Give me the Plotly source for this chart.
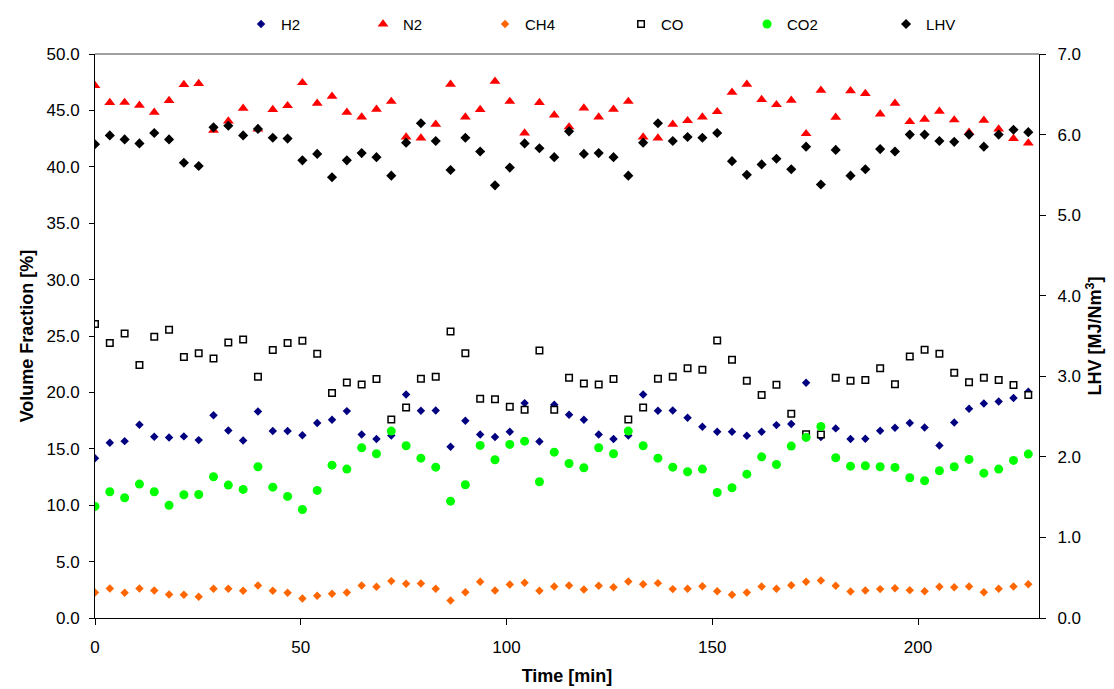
import plotly.graph_objects as go

time_min = [0.0, 3.6, 7.2, 10.8, 14.4, 18.0, 21.6, 25.2, 28.8, 32.4, 36.0, 39.6, 43.2, 46.8, 50.4, 54.0,
            57.6, 61.2, 64.8, 68.4, 72.0, 75.6, 79.2, 82.8, 86.4, 90.0, 93.6, 97.2, 100.8, 104.4, 108.0, 111.6,
            115.2, 118.8, 122.4, 126.0, 129.6, 133.2, 136.8, 140.4, 144.0, 147.6, 151.2, 154.8, 158.4, 162.0,
            165.6, 169.2, 172.8, 176.4, 180.0, 183.6, 187.2, 190.8, 194.4, 198.0, 201.6, 205.2, 208.8, 212.4,
            216.0, 219.6, 223.2, 226.8]

h2 = [14.17, 15.54, 15.68, 17.13, 16.07, 16.01, 16.10, 15.77, 17.98, 16.63, 15.74, 18.31, 16.57, 16.57, 16.21, 17.28,
      17.58, 18.34, 16.27, 15.86, 16.18, 19.82, 18.38, 18.40, 15.18, 17.49, 16.27, 16.04, 16.51, 19.05, 15.65, 18.91,
      18.02, 17.58, 16.27, 15.86, 16.18, 19.82, 18.38, 18.40, 17.75, 16.95, 16.51, 16.51, 16.16, 16.51, 17.10, 17.19,
      20.86, 16.04, 16.81, 15.86, 15.89, 16.60, 16.87, 17.28, 16.89, 15.30, 17.34, 18.55, 19.02, 19.20, 19.50, 20.06]

n2 = [47.20, 45.69, 45.71, 45.45, 44.83, 45.87, 47.29, 47.38, 43.23, 44.06, 45.18, 43.35, 45.07, 45.42, 47.46, 45.63,
      46.25, 44.83, 44.41, 45.10, 45.80, 42.64, 42.55, 43.77, 47.31, 44.41, 45.07, 47.58, 45.80, 42.99, 45.69, 44.59,
      43.53, 45.21, 44.41, 45.10, 45.80, 42.64, 42.55, 43.77, 44.09, 44.41, 44.89, 46.60, 47.31, 45.96, 45.51, 45.89,
      42.94, 46.78, 44.39, 46.74, 46.49, 44.68, 45.63, 44.00, 44.21, 44.92, 44.15, 43.06, 44.12, 43.35, 42.50, 42.11]

ch4 = [2.26, 2.62, 2.23, 2.62, 2.44, 2.08, 2.06, 1.88, 2.59, 2.59, 2.41, 2.88, 2.41, 2.23, 1.73, 1.97,
       2.15, 2.26, 2.88, 2.77, 3.27, 3.03, 3.06, 2.59, 1.55, 2.29, 3.21, 2.44, 2.97, 3.12, 2.41, 2.79,
       2.88, 2.53, 2.85, 2.73, 3.24, 3.00, 3.09, 2.56, 2.59, 2.82, 2.38, 2.06, 2.26, 2.79, 2.59, 2.91,
       3.21, 3.33, 2.85, 2.35, 2.44, 2.56, 2.64, 2.47, 2.38, 2.77, 2.73, 2.79, 2.29, 2.59, 2.79, 3.00]

co = [26.06, 24.37, 25.23, 22.42, 24.94, 25.56, 23.13, 23.48, 23.01, 24.43, 24.70, 21.39, 23.75, 24.37, 24.58, 23.43,
      19.94, 20.88, 20.71, 21.18, 17.60, 18.67, 21.21, 21.39, 25.41, 23.48, 19.44, 19.40, 18.73, 18.46, 23.72, 18.46,
      21.30, 20.80, 20.71, 21.18, 17.60, 18.67, 21.21, 21.39, 22.13, 22.01, 24.61, 22.90, 21.04, 19.76, 20.68, 18.11,
      16.30, 16.27, 21.30, 21.04, 21.09, 22.15, 20.73, 23.19, 23.79, 23.43, 21.75, 20.91, 21.30, 21.09, 20.65, 19.76]

co2 = [9.89, 11.19, 10.66, 11.87, 11.19, 10.00, 10.93, 10.95, 12.52, 11.78, 11.40, 13.41, 11.60, 10.78, 9.62, 11.31,
       13.55, 13.20, 15.09, 14.56, 16.57, 15.27, 14.17, 13.37, 10.36, 11.81, 15.30, 14.03, 15.39, 15.68, 12.08, 14.70,
       13.70, 13.32, 15.09, 14.56, 16.57, 15.27, 14.17, 13.37, 12.97, 13.20, 11.13, 11.55, 12.75, 14.29, 13.61, 15.24,
       16.01, 16.98, 14.21, 13.46, 13.50, 13.41, 13.35, 12.43, 12.17, 13.05, 13.41, 14.06, 12.84, 13.20, 13.97, 14.53]

lhv = [5.88, 5.99, 5.94, 5.89, 6.02, 5.94, 5.65, 5.61, 6.09, 6.11, 5.99, 6.07, 5.96, 5.95, 5.68, 5.76,
       5.47, 5.68, 5.77, 5.72, 5.49, 5.90, 6.14, 5.92, 5.56, 5.96, 5.79, 5.37, 5.59, 5.89, 5.83, 5.72,
       6.04, 5.76, 5.77, 5.72, 5.49, 5.90, 6.14, 5.92, 5.97, 5.96, 6.02, 5.67, 5.50, 5.63, 5.70, 5.57,
       5.85, 5.38, 5.81, 5.49, 5.57, 5.82, 5.79, 6.00, 6.00, 5.92, 5.91, 6.00, 5.85, 6.00, 6.06, 6.03]

x_ticks = [0, 50, 100, 150, 200]

FONT = "Liberation Sans, Arial, sans-serif"

fig = go.Figure()

left_series = [
    ("H2", h2, dict(symbol="diamond", size=6.5, color="#000080"), 77),
    ("N2", n2, dict(symbol="triangle-up", size=9.5, color="#FF0000"), 77),
    ("CH4", ch4, dict(symbol="diamond", size=6.5, color="#FF6600"), 91),
    ("CO", co, dict(symbol="square", size=6.5, color="#FFFFFF", line=dict(color="#000000", width=1.5)), 81),
    ("CO2", co2, dict(symbol="circle", size=9, color="#00FF00"), 94),
]
for name, vals, marker, lw in left_series:
    fig.add_trace(go.Scatter(x=time_min, y=vals, mode="markers", name=name, marker=marker,
                             legendwidth=lw, yaxis="y"))

fig.add_trace(go.Scatter(x=time_min, y=lhv, mode="markers", name="LHV",
                         marker=dict(symbol="diamond", size=7.8, color="#000000"),
                         legendwidth=60, yaxis="y2"))

axis_common = dict(showline=True, linecolor="#000000", linewidth=1, ticks="outside",
                   tickcolor="#000000", showgrid=False, zeroline=False, automargin=False,
                   tickfont=dict(family=FONT, size=17, color="#000000"))

fig.update_layout(
    width=1114, height=689,
    margin=dict(l=87, r=83, t=46, b=79, autoexpand=False),
    paper_bgcolor="white", plot_bgcolor="white",
    font=dict(family=FONT, color="#000000"),
    showlegend=True,
    legend=dict(orientation="h", x=0.1547, xanchor="left", y=1.0527, yanchor="middle",
                font=dict(family=FONT, size=15, color="#000000"),
                entrywidthmode="pixels", bgcolor="rgba(0,0,0,0)", tracegroupgap=0),
    xaxis=dict(range=[0, 229.4], tickvals=x_ticks, ticklen=6, ticklabelstandoff=8,
               title=dict(text="<b>Time [min]</b>", font=dict(family=FONT, size=18), standoff=12),
               **axis_common),
    yaxis=dict(range=[0, 50], dtick=5, tickformat=".1f", ticklen=5, ticklabelstandoff=6,
               title=dict(text="<b>Volume Fraction [%]</b>", font=dict(family=FONT, size=18), standoff=8),
               **axis_common),
    yaxis2=dict(range=[0, 7], dtick=1, tickformat=".1f", overlaying="y", side="right",
                ticklen=6, ticklabelstandoff=8,
                title=dict(text="<b>LHV [MJ/Nm<sup>3</sup>]</b>", font=dict(family=FONT, size=18), standoff=8),
                **axis_common),
    shapes=[dict(type="line", xref="paper", yref="paper", x0=0, x1=1, y0=1, y1=1,
                 line=dict(color="#808080", width=1.5))],
)

fig.write_html("out.html")
